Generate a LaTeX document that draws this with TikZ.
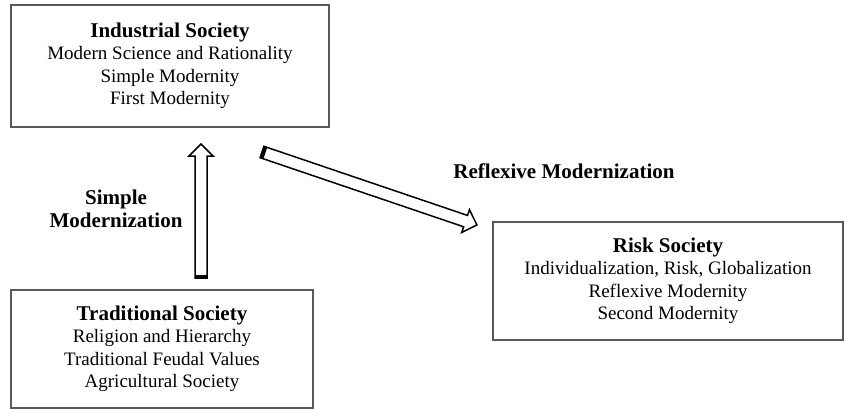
\documentclass[tikz,border=0pt]{standalone}
\usepackage{fontspec}
\setmainfont{Liberation Serif}
\newcommand\blkarrow[1]{%
  \filldraw[fill=white, draw=black, line width=1.5pt, line join=miter]
    (0,-6) -- (#1-12,-6) -- (#1-12,-12) -- (#1,0) -- (#1-12,12) -- (#1-12,6) -- (0,6) -- cycle;
  \fill[black] (0,-6) rectangle (3.5,6);}
\newcommand\ttl[1]{{\fontsize{21}{22.5}\selectfont\bfseries #1}}
\begin{document}
\begin{tikzpicture}[x=1pt,y=1pt,
  box/.style={draw=black!65, line width=1.3pt, align=center, inner sep=0pt,
    font=\fontsize{19}{22.5}\selectfont},
  lbl/.style={align=center, inner sep=0pt, font=\fontsize{21}{22.5}\selectfont\bfseries}]
\useasboundingbox (0,0) rectangle (845,-409);
\fill[white] (0,0) rectangle (845,-409);

\node[box, minimum width=318pt, minimum height=122pt] (ind) at (170,-66)
  {\ttl{Industrial Society}\\Modern Science and Rationality\\Simple Modernity\\First Modernity};
\node[box, minimum width=302pt, minimum height=118pt] (trad) at (162,-349)
  {\ttl{Traditional Society}\\Religion and Hierarchy\\Traditional Feudal Values\\Agricultural Society};
\node[box, minimum width=350pt, minimum height=118pt] (risk) at (668,-281)
  {\ttl{Risk Society}\\Individualization, Risk, Globalization\\Reflexive Modernity\\Second Modernity};

\node[lbl] (simple) at (116,-209) {Simple\\Modernization};
\node[lbl] (reflex) at (564,-171) {Reflexive Modernization};

\coordinate (upS) at (201,-278);
\coordinate (upE) at (201,-144);
\coordinate (dgS) at (262,-152);
\coordinate (dgE) at (477,-225);

\begin{scope}[shift={(upS)}, rotate=90]
  \blkarrow{134}
\end{scope}
\begin{scope}[shift={(dgS)}, rotate=-18.75]
  \blkarrow{227}
\end{scope}
\end{tikzpicture}
\end{document}
